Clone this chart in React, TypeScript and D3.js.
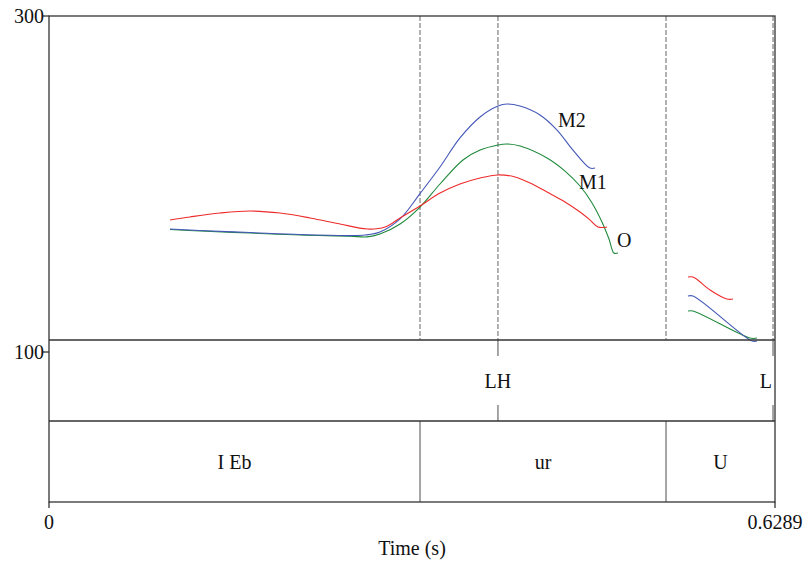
import React from 'react';
import * as d3 from 'd3';

// ---- data ----
const T_MAX = 0.6289;
const yTickValues = [100, 300];
const xTickValues = [0, 0.6289];
const xTickLabels = ['0', '0.6289'];
const xAxisTitle = 'Time (s)';

// time (s), F0 (Hz)
const seriesO: [number, number][][] = [
  [[0.1048,178.6],[0.1221,180.4],[0.1481,182.7],[0.1741,183.9],[0.2001,182.7],[0.2261,179.8],[0.2521,176.2],[0.2755,173.2],[0.2911,174.4],[0.3041,179.8],[0.3214,186.9],[0.3387,194.6],[0.3560,200.0],[0.3734,203.6],[0.3890,205.4],[0.4037,204.2],[0.4167,200.6],[0.4314,195.2],[0.4470,189.3],[0.4600,183.3],[0.4686,178.6],[0.4756,174.4],[0.4834,174.4]],
  [[0.5535,144.6],[0.5579,144.6],[0.5726,136.9],[0.5873,131.5],[0.5925,131.5]],
];
const seriesM2: [number, number][][] = [
  [[0.1048,173.2],[0.1308,172.3],[0.1741,171.1],[0.2174,169.9],[0.2607,169.3],[0.2737,169.6],[0.2867,171.4],[0.3041,179.2],[0.3214,194.3],[0.3387,210.1],[0.3560,227.4],[0.3734,239.9],[0.3890,246.4],[0.3967,247.6],[0.4080,246.4],[0.4253,241.1],[0.4401,232.1],[0.4539,220.2],[0.4686,209.5],[0.4730,209.5]],
  [[0.5535,133.3],[0.5579,133.3],[0.6090,106.5],[0.6133,106.5]],
];
const seriesM1: [number, number][][] = [
  [[0.1048,172.9],[0.1308,172.0],[0.1741,170.8],[0.2174,169.6],[0.2607,169.0],[0.2755,168.5],[0.2867,170.2],[0.3041,176.2],[0.3214,186.3],[0.3387,200.0],[0.3586,214.3],[0.3734,220.2],[0.3890,223.2],[0.3967,223.8],[0.4080,222.6],[0.4314,215.5],[0.4470,207.7],[0.4600,198.8],[0.4704,188.7],[0.4790,177.4],[0.4851,167.3],[0.4894,158.9],[0.4929,158.9]],
  [[0.5535,124.4],[0.5579,124.4],[0.6072,108.3],[0.6133,108.3]],
];
const seriesNames = ['M1', 'M2', 'O'];
const seriesColors = ['#1f8a3c', '#4457b8', '#ee2b2b'];
// label anchors (time, Hz at baseline)
const labelPos: [number, number][] = [[0.4591, 197.0], [0.4409, 233.9], [0.4921, 162.5]];

const intervalBounds = [0, 0.3214, 0.5345, 0.6289];
const intervalLabels = ['I Eb', 'ur', 'U'];
const pointTimes = [0.3889, 0.6272];
const pointLabels = ['LH', 'L'];

export default function App() {
  const W = 808, H = 563;
  const left = 49, right = 775, top = 16, pitchBottom = 340, tierMid = 421, bottom = 502;
  const x = d3.scaleLinear().domain([0, T_MAX]).range([left, right]);
  const y = d3.scaleLinear().domain([100, 300]).range([352, top]);
  const line = d3.line<[number, number]>().x(d => x(d[0])).y(d => y(d[1])).curve(d3.curveCatmullRom.alpha(0.5));
  const allSeries = [seriesM1, seriesM2, seriesO];
  const font = '"Liberation Serif", "Times New Roman", serif';
  const dashLines = [...intervalBounds.slice(1, -1), ...pointTimes];
  const frame = '#333';

  return (
    <svg width={W} height={H} style={{ position: 'absolute', left: 0, top: 0, background: '#fff' }}
      fontFamily={font} fontSize={20}>
      <rect x={0} y={0} width={W} height={H} fill="#fff" />
      {/* dashed vertical lines in pitch area */}
      {dashLines.map((t, i) => (
        <line key={'d' + i} x1={x(t)} x2={x(t)} y1={top} y2={pitchBottom}
          stroke="#999" strokeWidth={1.5} strokeDasharray="5,2" />
      ))}
      {/* curves */}
      {allSeries.map((s, si) => s.map((seg, k) => (
        <path key={si + '-' + k} d={line(seg) || ''} fill="none" stroke={seriesColors[si]} strokeWidth={1.1} />
      )))}
      {/* series labels */}
      {seriesNames.map((n, i) => (
        <text key={n} x={x(labelPos[i][0])} y={y(labelPos[i][1])} fill="#111">{n}</text>
      ))}
      {/* tier 1 point markers */}
      {pointTimes.map((t, i) => {
        const px = x(t);
        const nearEdge = px > right - 15;
        return (
          <g key={'p' + i}>
            <line x1={px} x2={px} y1={pitchBottom} y2={pitchBottom + 16} stroke="#888" strokeWidth={1.5} />
            <line x1={px} x2={px} y1={tierMid - 16} y2={tierMid} stroke="#888" strokeWidth={1.5} />
            <text x={nearEdge ? right - 3 : px} y={388} textAnchor={nearEdge ? 'end' : 'middle'} fill="#111">{pointLabels[i]}</text>
          </g>
        );
      })}
      {/* tier 2 intervals */}
      {intervalBounds.slice(1, -1).map((t, i) => (
        <line key={'b' + i} x1={x(t)} x2={x(t)} y1={tierMid} y2={bottom} stroke="#888" strokeWidth={1.5} />
      ))}
      {intervalLabels.map((l, i) => (
        <text key={'il' + i} x={(x(intervalBounds[i]) + x(intervalBounds[i + 1])) / 2} y={469} textAnchor="middle" fill="#111">{l}</text>
      ))}
      {/* frame and tier separators */}
      <rect x={left} y={top} width={right - left} height={bottom - top} fill="none" stroke={frame} strokeWidth={1.3} />
      <line x1={left} x2={right} y1={pitchBottom} y2={pitchBottom} stroke={frame} strokeWidth={1.3} />
      <line x1={left} x2={right} y1={tierMid} y2={tierMid} stroke={frame} strokeWidth={1.3} />
      {/* y ticks */}
      {yTickValues.map(v => (
        <g key={'y' + v}>
          <line x1={left - 6} x2={left} y1={y(v)} y2={y(v)} stroke={frame} strokeWidth={1.3} />
          <text x={left - 5} y={y(v) + 7} textAnchor="end" fill="#111">{v}</text>
        </g>
      ))}
      {/* x ticks */}
      {xTickValues.map((v, i) => (
        <g key={'x' + i}>
          <line x1={x(v)} x2={x(v)} y1={bottom} y2={bottom + 6} stroke={frame} strokeWidth={1.3} />
          <text x={x(v)} y={529} textAnchor="middle" fill="#111">{xTickLabels[i]}</text>
        </g>
      ))}
      <text x={(left + right) / 2} y={555} textAnchor="middle" fill="#111">{xAxisTitle}</text>
    </svg>
  );
}
